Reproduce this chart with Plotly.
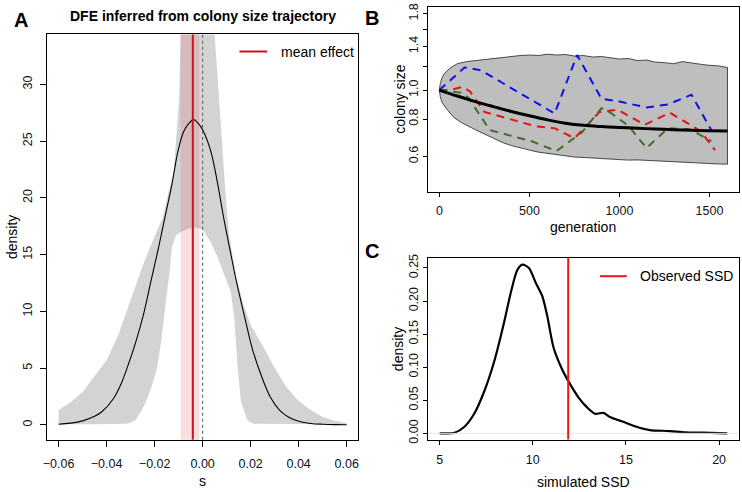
import plotly.graph_objects as go

W, H = 742, 492

# ---------------- Panel A data ----------------
a_curve_s = [-0.06, -0.055, -0.05, -0.045, -0.042, -0.0372, -0.034, -0.031, -0.028, -0.0248,
             -0.0217, -0.0186, -0.0157, -0.0128, -0.0103, -0.008, -0.006, -0.0037, -0.002, 0.0,
             0.0034, 0.0062, 0.0087, 0.0115, 0.0142, 0.0175, 0.0207, 0.0245, 0.0283, 0.032,
             0.0359, 0.04, 0.045, 0.05, 0.055, 0.06]
a_curve_d = [0.05, 0.15, 0.35, 0.75, 1.15, 2.3, 3.6, 5.3, 7.2, 9.6,
             12.5, 15.4, 18.3, 21.2, 24.1, 25.8, 26.5, 26.9, 26.6, 26.0,
             24.1, 21.3, 18.3, 15.3, 12.5, 9.5, 6.7, 4.3, 2.4, 1.3,
             0.67, 0.32, 0.12, 0.05, 0.02, 0.01]

a_upper_s = [-0.06, -0.055, -0.05, -0.045, -0.04, -0.035, -0.03, -0.025, -0.022, -0.0166,
             -0.012, -0.0098, -0.0092, -0.009, 0.0, 0.0045, 0.005, 0.0069, 0.0083, 0.0095,
             0.011, 0.0142, 0.017, 0.02, 0.025, 0.03, 0.035, 0.04, 0.045, 0.05, 0.055, 0.06]
a_upper_d = [1.3, 2.0, 2.9, 4.3, 5.7, 8.0, 11.0, 14.0, 15.6, 18.3,
             22.5, 28.7, 34.0, 45.0, 45.0, 45.0, 34.4, 28.4, 24.1, 20.5,
             16.7, 12.9, 10.6, 8.8, 7.0, 5.0, 3.3, 2.1, 1.3, 0.7, 0.35, 0.15]

a_lower_s = [-0.06, -0.05, -0.04, -0.035, -0.031, -0.028, -0.0255, -0.0235, -0.0214, -0.019,
             -0.0173, -0.0152, -0.0138, -0.0128, -0.0111, -0.009, -0.006, -0.003, 0.0, 0.0034,
             0.0062, 0.0097, 0.0117, 0.0131, 0.0145, 0.0159, 0.0186, 0.021, 0.03, 0.04, 0.05, 0.06]
a_lower_d = [0.05, 0.05, 0.05, 0.08, 0.12, 0.4, 1.25, 2.1, 3.3, 5.0,
             7.3, 11.1, 13.4, 15.7, 16.7, 17.0, 17.3, 17.4, 17.2, 16.1,
             14.8, 12.8, 11.7, 9.6, 5.3, 2.1, 0.4, 0.1, 0.05, 0.05, 0.05, 0.05]

mean_effect = -0.0041
mean_ci = [-0.0092, -0.0014]
a_xticks = [-0.06, -0.04, -0.02, 0.00, 0.02, 0.04, 0.06]
a_yticks = [0, 5, 10, 15, 20, 25, 30]

# ---------------- Panel B data ----------------
b_upper_g = [0, 5, 15, 30, 60, 100, 150, 200, 250, 300, 350, 400, 450, 500, 550, 600, 650,
             700, 750, 800, 850, 900, 950, 1000, 1050, 1100, 1150, 1200, 1250, 1300, 1350,
             1400, 1450, 1500, 1550, 1600]
b_upper_v = [1.0, 1.05, 1.10, 1.14, 1.185, 1.225, 1.245, 1.255, 1.27, 1.28, 1.29, 1.295,
             1.305, 1.31, 1.305, 1.318, 1.31, 1.315, 1.30, 1.305, 1.29, 1.295, 1.28, 1.27,
             1.275, 1.255, 1.26, 1.24, 1.235, 1.225, 1.245, 1.23, 1.22, 1.21, 1.205, 1.19]
b_lower_g = [0, 5, 15, 40, 80, 120, 200, 250, 300, 350, 400, 450, 500, 550, 600, 650, 700,
             750, 800, 850, 900, 950, 1000, 1050, 1100, 1150, 1200, 1250, 1300, 1350, 1400,
             1450, 1500, 1550, 1600]
b_lower_v = [1.0, 0.95, 0.91, 0.865, 0.81, 0.78, 0.737, 0.71, 0.69, 0.668, 0.652, 0.64,
             0.63, 0.62, 0.612, 0.607, 0.602, 0.597, 0.595, 0.594, 0.589, 0.588, 0.586,
             0.583, 0.584, 0.58, 0.579, 0.576, 0.575, 0.574, 0.57, 0.571, 0.568, 0.566, 0.565]
b_mean_g = [0, 100, 200, 300, 400, 500, 600, 700, 800, 900, 1000, 1100, 1200, 1300, 1400,
            1500, 1600]
b_mean_v = [1.0, 0.955, 0.915, 0.88, 0.848, 0.82, 0.795, 0.775, 0.762, 0.755, 0.75, 0.745,
            0.741, 0.737, 0.734, 0.731, 0.729]
blue_g = [0, 140, 230, 640, 765, 900, 1000, 1150, 1270, 1400, 1510]
blue_v = [1.0, 1.19, 1.165, 0.835, 1.31, 0.935, 0.915, 0.875, 0.895, 0.965, 0.735]
red_g = [0, 60, 130, 170, 250, 540, 640, 750, 890, 990, 1140, 1280, 1450, 1530]
red_v = [1.0, 1.0, 1.025, 0.99, 0.845, 0.755, 0.745, 0.69, 0.845, 0.86, 0.765, 0.84, 0.73, 0.63]
green_g = [0, 70, 120, 160, 280, 520, 650, 790, 900, 950, 1050, 1150, 1270, 1390, 1510]
green_v = [1.0, 0.985, 0.98, 0.945, 0.735, 0.672, 0.625, 0.72, 0.87, 0.84, 0.76, 0.64,
           0.745, 0.74, 0.675]
b_xticks = [0, 500, 1000, 1500]
b_yticks = [0.6, 0.8, 1.0, 1.2, 1.4, 1.6, 1.8]
b_yticktext = ["0.6", "0.8", "1.0", "", "1.4", "", "1.8"]

# ---------------- Panel C data ----------------
c_ssd = [5.0, 5.8, 6.33, 6.86, 7.40, 7.93, 8.46, 8.82, 9.17, 9.44, 9.79, 10.15, 10.5, 10.77,
         11.12, 11.57, 12.01, 12.45, 12.9, 13.34, 13.79, 14.14, 14.85, 15.56, 16.27, 17.34,
         18.2, 19.1, 20.44]
c_dens = [0.0, 0.001, 0.01, 0.03, 0.064, 0.109, 0.168, 0.213, 0.247, 0.255, 0.250, 0.228,
          0.208, 0.178, 0.129, 0.097, 0.074, 0.0545, 0.0396, 0.0297, 0.031, 0.0248, 0.0174,
          0.010, 0.005, 0.0035, 0.0015, 0.001, 0.0]
observed_ssd = 11.9
c_xticks = [5, 10, 15, 20]
c_yticks = [0.00, 0.05, 0.10, 0.15, 0.20, 0.25]

FONT = "Liberation Sans, Arial, sans-serif"
A_RED = "#C8141E"
C_RED = "#EE1515"

def xd(l, r):
    return [l / W, r / W]

def yd(t, b):
    return [1 - b / H, 1 - t / H]

A_box = (43.4, 356.6, 31, 443)
B_box = (426.7, 740, 3, 191)
C_box = (427, 740, 258.3, 442.7)

fig = go.Figure()

# Panel A
a_yr = [-1.32, 34.4]
fig.add_trace(go.Scatter(x=a_upper_s + a_lower_s[::-1], y=a_upper_d + a_lower_d[::-1],
                         fill="toself", fillcolor="#D3D3D3", line=dict(width=0),
                         mode="lines", hoverinfo="skip", xaxis="x", yaxis="y"))
fig.add_trace(go.Scatter(x=[mean_ci[0], mean_ci[0], mean_ci[1], mean_ci[1]],
                         y=[a_yr[0] - 5, a_yr[1] + 5, a_yr[1] + 5, a_yr[0] - 5],
                         fill="toself", fillcolor="rgba(232,90,90,0.2)", line=dict(width=0),
                         mode="lines", hoverinfo="skip", xaxis="x", yaxis="y"))
fig.add_trace(go.Scatter(x=a_curve_s, y=a_curve_d, mode="lines",
                         line=dict(color="black", width=1.1, shape="spline"),
                         xaxis="x", yaxis="y"))
fig.add_shape(type="line", xref="x", yref="y domain", x0=mean_effect, x1=mean_effect,
              y0=0, y1=1, line=dict(color=A_RED, width=2))
fig.add_shape(type="line", xref="x", yref="y domain", x0=0, x1=0, y0=0, y1=1,
              line=dict(color="#555555", width=1, dash="3px,3px"))

# Panel B
fig.add_trace(go.Scatter(x=b_upper_g + b_lower_g[::-1], y=b_upper_v + b_lower_v[::-1],
                         fill="toself", fillcolor="#BEBEBE", line=dict(color="#222", width=0.8),
                         mode="lines", hoverinfo="skip", xaxis="x2", yaxis="y2"))
for gg, vv, col in [(blue_g, blue_v, "#1010E8"), (red_g, red_v, "#E01515"),
                    (green_g, green_v, "#3F6E2A")]:
    fig.add_trace(go.Scatter(x=gg, y=vv, mode="lines",
                             line=dict(color=col, width=2, dash="8px,6px"),
                             xaxis="x2", yaxis="y2"))
fig.add_trace(go.Scatter(x=b_mean_g, y=b_mean_v, mode="lines",
                         line=dict(color="black", width=3, shape="spline"),
                         xaxis="x2", yaxis="y2"))

# Panel C
c_yr = [-0.0093, 0.2649]
fig.add_shape(type="line", xref="x3 domain", yref="y3", x0=0, x1=1, y0=0, y1=0,
              line=dict(color="#E6E6E6", width=1))
fig.add_trace(go.Scatter(x=c_ssd, y=c_dens, mode="lines",
                         line=dict(color="black", width=2.2, shape="spline", smoothing=0.8),
                         xaxis="x3", yaxis="y3"))
fig.add_shape(type="line", xref="x3", yref="y3 domain", x0=observed_ssd, x1=observed_ssd,
              y0=0, y1=1, line=dict(color=C_RED, width=2))

def axis_common(ticklen):
    return dict(showline=True, linecolor="black", linewidth=1, mirror=True,
                ticks="outside", ticklen=ticklen, tickcolor="black", tickwidth=1,
                showgrid=False, zeroline=False,
                tickfont=dict(family=FONT, size=12.5, color="#111"))

fig.update_layout(
    width=W, height=H, margin=dict(l=0, r=0, t=0, b=0),
    paper_bgcolor="white", plot_bgcolor="white", showlegend=False,
    font=dict(family=FONT, color="black"),
    xaxis=dict(domain=xd(A_box[0], A_box[1]), range=[-0.0648, 0.0648], tickvals=a_xticks,
               tickformat=".2f", ticklabelstandoff=6, anchor="y", **axis_common(6)),
    yaxis=dict(domain=yd(A_box[2], A_box[3]), range=a_yr, tickvals=a_yticks, tickangle=-90,
               ticklabelstandoff=3, anchor="x", **axis_common(6)),
    xaxis2=dict(domain=xd(B_box[0], B_box[1]), range=[-64, 1664], tickvals=b_xticks,
                ticklabelstandoff=3, anchor="y2", **axis_common(4)),
    yaxis2=dict(domain=yd(B_box[2], B_box[3]), type="log", range=[-0.3406, 0.278],
                tickvals=b_yticks, ticktext=b_yticktext, tickangle=-90,
                ticklabelstandoff=0, anchor="x2", **axis_common(4)),
    xaxis3=dict(domain=xd(C_box[0], C_box[1]), range=[4.38, 21.07], tickvals=c_xticks,
                ticklabelstandoff=4, anchor="y3", **axis_common(4)),
    yaxis3=dict(domain=yd(C_box[2], C_box[3]), range=c_yr, tickvals=c_yticks,
                tickformat=".2f", tickangle=-90, ticklabelstandoff=0, anchor="x3",
                **axis_common(4)),
)

def ann(text, px, py, size=14, bold=False, angle=0, xanchor="center"):
    t = f"<b>{text}</b>" if bold else text
    fig.add_annotation(text=t, x=px / W, y=1 - py / H, xref="paper", yref="paper",
                       showarrow=False, textangle=angle, xanchor=xanchor, yanchor="middle",
                       font=dict(family=FONT, size=size, color="black"))

ann("DFE inferred from colony size trajectory", 200, 12.5, size=14, bold=True)
ann("A", 16.7, 16.7, size=20, bold=True)
ann("B", 370, 14, size=20, bold=True)
ann("C", 370.5, 251, size=20, bold=True)
ann("s", 200, 485)
ann("density", 8, 237, angle=-90)
ann("generation", 583.3, 227)
ann("colony size", 399, 97, angle=-90)
ann("simulated SSD", 583.5, 486)
ann("density", 396, 350.5, angle=-90)

fig.add_shape(type="line", xref="paper", yref="paper", x0=237 / W, x1=265 / W,
              y0=1 - 48.3 / H, y1=1 - 48.3 / H, line=dict(color=A_RED, width=2))
ann("mean effect", 276.7, 48.3, xanchor="left")
fig.add_shape(type="line", xref="paper", yref="paper", x0=600 / W, x1=627 / W,
              y0=1 - 276.7 / H, y1=1 - 276.7 / H, line=dict(color=C_RED, width=2))
ann("Observed SSD", 638.3, 276.7, xanchor="left")

fig.write_html("out.html", config={"displayModeBar": False},
               post_script="document.body.style.margin='0';"
                           "document.body.style.padding='0';"
                           "document.body.style.overflow='hidden';")
